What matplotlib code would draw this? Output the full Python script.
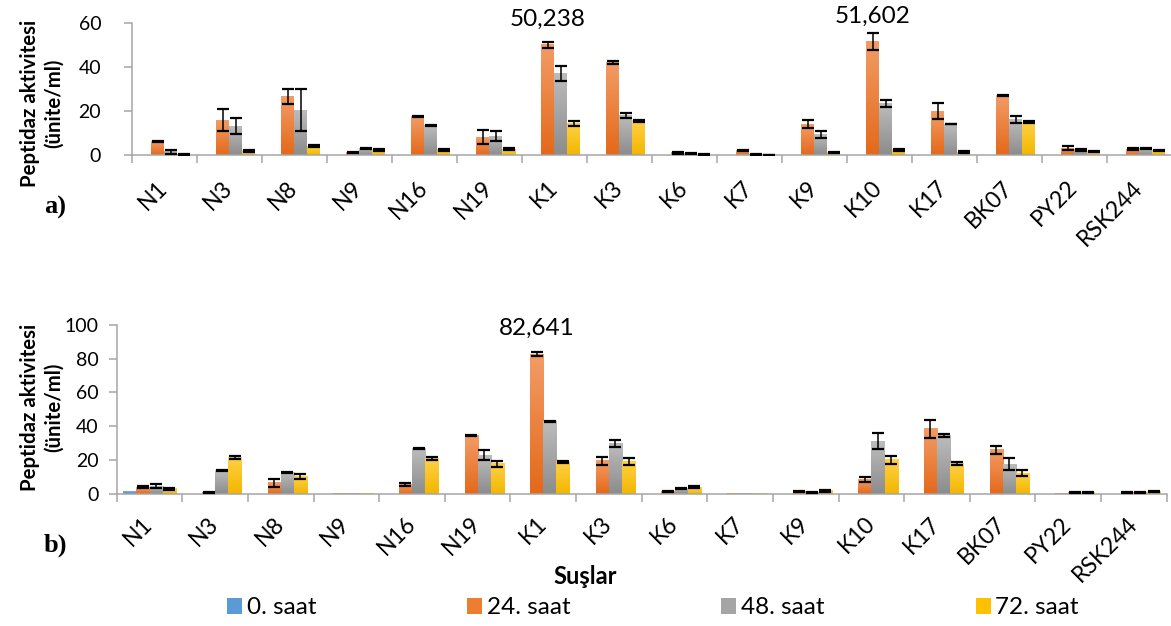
import numpy as np
import matplotlib
matplotlib.use("Agg")
import matplotlib.pyplot as plt
from matplotlib.colors import LinearSegmentedColormap
from matplotlib.patches import Patch
from matplotlib.transforms import ScaledTranslation

# ---- data -------------------------------------------------------------
strains = ["N1", "N3", "N8", "N9", "N16", "N19", "K1", "K3", "K6", "K7",
           "K9", "K10", "K17", "BK07", "PY22", "RSK244"]
series_labels = ["0. saat", "24. saat", "48. saat", "72. saat"]

# panel a)
a_0h = [0, 0, 0, 0, 0, 0, 0, 0, 0, 0, 0, 0, 0, 0, 0, 0]
a_24h = [6.0, 15.9, 26.5, 1.2, 17.6, 8.2, 50.238, 42.0, 1.0, 2.1, 14.1, 51.602, 20.0, 27.3, 3.0, 2.6]
a_24h_err = [0.3, 5.0, 3.4, 0.3, 0.2, 3.2, 1.3, 0.7, 0.4, 0.3, 1.7, 3.9, 3.6, 0.2, 0.9, 0.4]
a_48h = [1.5, 13.2, 20.5, 2.9, 13.5, 8.6, 37.3, 17.9, 0.6, 0.2, 9.4, 23.5, 14.1, 16.2, 2.3, 3.0]
a_48h_err = [1.0, 3.6, 9.7, 0.2, 0.2, 2.4, 3.4, 1.2, 0.2, 0.1, 1.7, 1.5, 0.2, 1.5, 0.3, 0.3]
a_72h = [0.3, 2.0, 4.1, 2.3, 2.3, 2.7, 14.4, 15.5, 0.2, 0.1, 1.2, 2.3, 1.2, 15.0, 1.5, 2.0]
a_72h_err = [0.1, 0.5, 0.4, 0.3, 0.4, 0.5, 1.0, 0.3, 0.1, 0.05, 0.3, 0.4, 0.5, 0.3, 0.3, 0.3]

# panel b)
b_0h = [1.2, 0, 0, 0, 0, 0, 0, 0, 0, 0, 0, 0, 0, 0, 0, 0]
b_24h = [4.1, 0.8, 6.5, 0.3, 5.5, 34.4, 82.641, 19.5, 1.2, 0.1, 1.2, 8.3, 38.4, 26.0, 0.3, 0.7]
b_24h_err = [0.4, 0.3, 2.3, 0, 0.8, 0.4, 1.0, 2.6, 0.3, 0, 0.3, 1.5, 5.4, 2.4, 0, 0.3]
b_48h = [4.7, 13.8, 12.8, 0.5, 26.8, 23.0, 42.9, 29.9, 3.3, 0.4, 0.6, 31.3, 34.4, 17.7, 1.0, 1.0]
b_48h_err = [1.0, 0.4, 0.4, 0, 0.5, 2.8, 0.4, 2.2, 0.3, 0, 0.3, 4.5, 0.8, 3.4, 0.3, 0.2]
b_72h = [3.0, 21.5, 10.2, 0.4, 21.0, 17.9, 19.1, 19.1, 4.1, 0.1, 1.8, 20.1, 18.1, 12.2, 1.0, 1.5]
b_72h_err = [0.4, 0.8, 1.5, 0, 1.0, 1.7, 0.6, 2.0, 0.6, 0, 0.4, 2.6, 0.7, 1.7, 0.3, 0.4]

# (top colour, bottom colour) of each series' vertical gradient
fills = [("#7DB1E0", "#4A88C5"),
         ("#F29C66", "#E4691A"),
         ("#BCBCBC", "#8C8C8C"),
         ("#FFD044", "#F3B700")]
legend_colors = ["#5B9BD5", "#ED7D31", "#A5A5A5", "#FFC000"]

plt.rcParams["font.family"] = ["Lato", "DejaVu Sans"]
AXIS_GRAY = "#A6A6A6"

fig = plt.figure(figsize=(11.71, 6.26), dpi=100)


def draw_panel(ax, series, errors, ymax, ystep, ypad, xpad, callouts):
    x = np.arange(len(strains))
    width = 0.2
    offsets = [-1.5, -0.5, 0.5, 1.5]
    grad = np.linspace(0, 1, 64).reshape(-1, 1)
    for k, vals in enumerate(series):
        vals = np.asarray(vals, dtype=float)
        xs = x + offsets[k] * width
        top, bottom = fills[k]
        cmap = LinearSegmentedColormap.from_list(f"fill{k}", [bottom, top])
        bars = ax.bar(xs, vals, width, color="none", edgecolor="none", zorder=2)
        for b in bars:
            h = b.get_height()
            if h <= 0:
                continue
            x0 = b.get_x()
            ax.imshow(grad, cmap=cmap, origin="lower", aspect="auto",
                      extent=[x0, x0 + b.get_width(), 0, h],
                      interpolation="bilinear", zorder=2)
        errs = errors[k]
        if errs is not None:
            errs = np.asarray(errs, dtype=float)
            m = errs > 0
            ax.errorbar(xs[m], vals[m], yerr=errs[m], fmt="none", ecolor="black",
                        elinewidth=1.1, capsize=4.6, capthick=1.6, zorder=3)

    for idx, k in callouts:
        v = series[k][idx]
        ax.annotate(f"{v:.3f}".replace(".", ","), xy=(idx + offsets[k] * width, v),
                    xytext=(0, 11), textcoords="offset points",
                    ha="center", va="bottom", fontsize=17.5)

    ax.set_xlim(-0.5, len(strains) - 0.5)
    ax.set_ylim(0, ymax)
    ax.set_yticks(np.arange(0, ymax + 1, ystep))
    for s in ("top", "right"):
        ax.spines[s].set_visible(False)
    for s in ("left", "bottom"):
        ax.spines[s].set_color(AXIS_GRAY)
        ax.spines[s].set_linewidth(1.1)
    ax.set_xticks(x)
    ax.set_xticklabels(strains, rotation=45, ha="right", va="center",
                       rotation_mode="anchor")
    shift = ScaledTranslation(3 / 100, 0, fig.dpi_scale_trans)
    for lab in ax.get_xticklabels():
        lab.set_transform(lab.get_transform() + shift)
    ax.set_xticks(np.arange(-0.5, len(strains), 1), minor=True)
    ax.tick_params(axis="x", which="major", length=0, pad=xpad, labelsize=16.5)
    ax.tick_params(axis="x", which="minor", length=6, width=1.1,
                   color=AXIS_GRAY, direction="out")
    ax.tick_params(axis="y", length=6, width=1.1, color=AXIS_GRAY,
                   direction="out", pad=ypad, labelsize=14)


W, H = 1171, 626
ax_a = fig.add_axes([131.7 / W, 1 - 155 / H, 1040 / W, 131.7 / H])
draw_panel(ax_a, [a_0h, a_24h, a_48h, a_72h],
           [None, a_24h_err, a_48h_err, a_72h_err],
           60, 20, ypad=16, xpad=21, callouts=[(6, 1), (11, 1)])

ax_b = fig.add_axes([116.7 / W, 1 - 494 / H, 1050 / W, 169.3 / H])
draw_panel(ax_b, [b_0h, b_24h, b_48h, b_72h],
           [None, b_24h_err, b_48h_err, b_72h_err],
           100, 20, ypad=7, xpad=19, callouts=[(6, 1)])

ylabel = "Peptidaz aktivitesi\n(ünite/ml)"
for yc in (103, 407):
    fig.text(42 / W, 1 - yc / H, ylabel, rotation=90, ha="center", va="center",
             ma="center", fontsize=14.7, fontweight="bold", linespacing=1.2)

for yc, tag in ((207, "a)"), (545, "b)")):
    fig.text(55 / W, 1 - yc / H, tag, ha="center", va="center", fontsize=19,
             fontweight="bold", family=["Liberation Serif", "DejaVu Serif"])

fig.text(585 / W, 1 - 577 / H, "Suşlar", ha="center", va="center",
         fontsize=17, fontweight="bold")

handles = [Patch(facecolor=c, edgecolor="none") for c in legend_colors]
fig.legend(handles, series_labels, loc="center", ncol=4,
           bbox_to_anchor=(653 / W, 1 - 608 / H), frameon=False,
           fontsize=17.5, handlelength=0.62, handleheight=0.62,
           handletextpad=0.2, columnspacing=6.2, borderaxespad=0)

fig.savefig("out.png", dpi=100)
